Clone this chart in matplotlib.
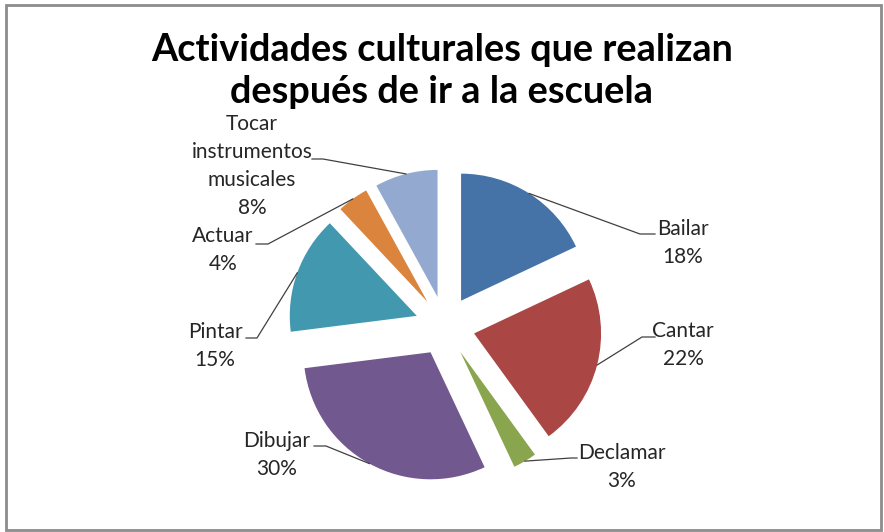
import matplotlib.pyplot as plt
import numpy as np
from matplotlib.patches import Rectangle

# data
actividades = ["Bailar", "Cantar", "Declamar", "Dibujar", "Pintar", "Actuar",
               "Tocar\ninstrumentos\nmusicales"]
porcentajes = [18, 22, 3, 30, 15, 4, 8]
colores = ["#4572A7", "#AA4643", "#89A54E", "#71588F", "#4198AF", "#DB843D", "#93A9CF"]
titulo = "Actividades culturales que realizan\ndespués de ir a la escuela"

# label layout (pixel coords, y down): text block centre, knee, end of leader line
label_pos = [(683, 243), (683, 345), (622, 467), (277, 455), (215, 346), (223, 250), (252, 166)]
knee = [(640, 234), (642, 337), (571, 458), (326, 446), (257, 338), (268, 244), (323, 159)]
line_end = [(655, 234), (655, 337), (577, 458), (314, 446), (246, 338), (256, 244), (312, 159)]

fig = plt.figure(figsize=(8.84, 5.32), dpi=100)
ax = fig.add_axes([0, 0, 1, 1])

# y axis is inverted, so counterclock=True draws clockwise on screen
wedges, _ = ax.pie(porcentajes, colors=colores, startangle=-90, counterclock=True,
                   center=(445, 326), radius=127, explode=[30] * 7,
                   frame=True, wedgeprops=dict(linewidth=0))
ax.set_xlim(0, 884)
ax.set_ylim(532, 0)
ax.set_aspect("equal")
ax.axis("off")

for w, nombre, p, pos, k, e in zip(wedges, actividades, porcentajes, label_pos, knee, line_end):
    mid = np.deg2rad((w.theta1 + w.theta2) / 2)
    ax_x = w.center[0] + w.r * np.cos(mid)
    ax_y = w.center[1] + w.r * np.sin(mid)
    ax.plot([ax_x, k[0], e[0]], [ax_y, k[1], e[1]], color="#404040", lw=0.9)
    ax.text(pos[0], pos[1], f"{nombre}\n{p}%", ha="center", va="center",
            fontsize=15, family="Lato", color="#262626", linespacing=1.5)

ax.text(442, 71, titulo, ha="center", va="center", fontsize=27.3, family="Lato",
        fontweight="bold", color="black", linespacing=1.3)

fig.patches.append(Rectangle((6 / 884, 1 - 530 / 532), 875 / 884, 525 / 532,
                             transform=fig.transFigure, fill=False,
                             edgecolor="#8c8c8c", lw=2))

fig.savefig("out.png", dpi=100)
